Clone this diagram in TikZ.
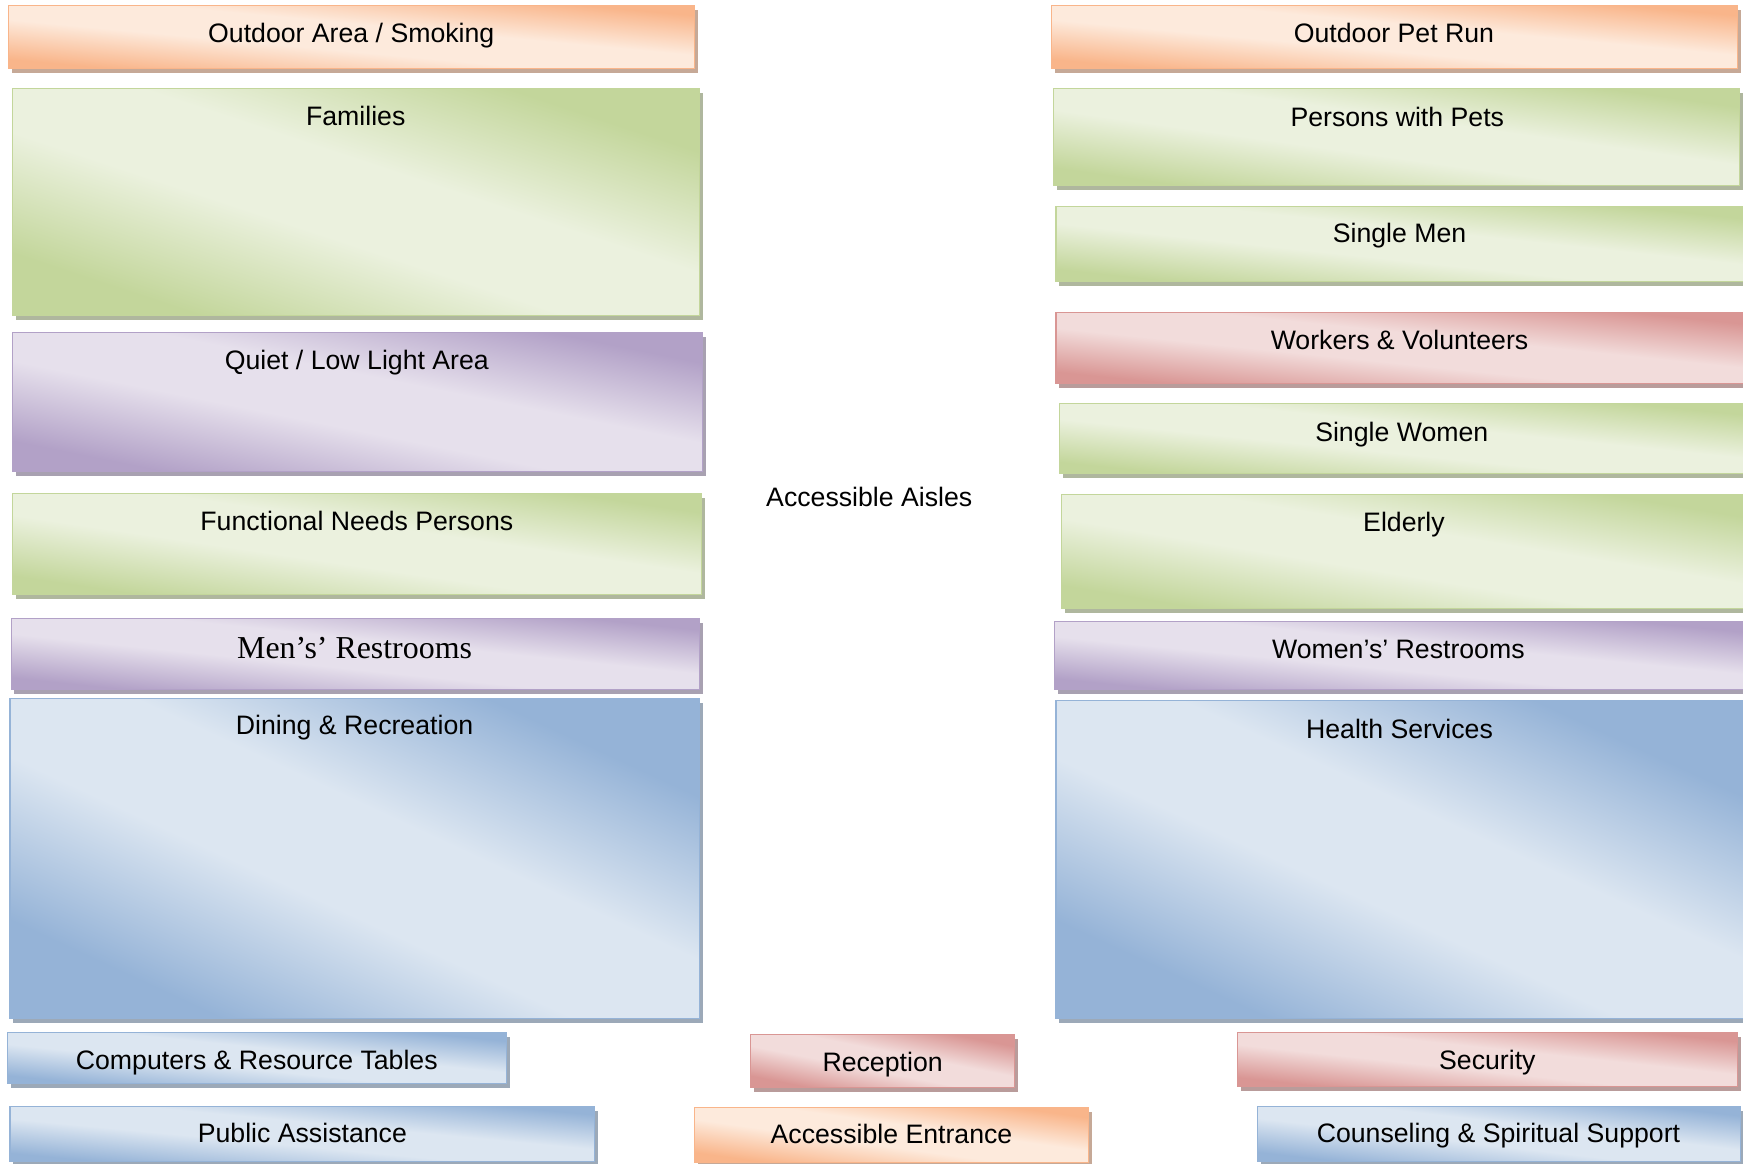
\documentclass[tikz,border=0pt]{standalone}
\usepackage{fontspec}
\setmainfont{Liberation Sans}
\newfontfamily\serifzone{Liberation Serif}
\usetikzlibrary{shadows}

\definecolor{odark}{HTML}{F9B58A}
\definecolor{olight}{HTML}{FDEADC}
\definecolor{gdark}{HTML}{C3D69B}
\definecolor{glight}{HTML}{EBF1DE}
\definecolor{pdark}{HTML}{B2A1C7}
\definecolor{plight}{HTML}{E6E0EC}
\definecolor{bdark}{HTML}{95B3D7}
\definecolor{blight}{HTML}{DCE6F1}
\definecolor{rdark}{HTML}{D99694}
\definecolor{rlight}{HTML}{F2DCDB}
\colorlet{zdark}{gray}
\colorlet{zlight}{white}

\pgfdeclarehorizontalshading[zdark,zlight]{zoneband}{100bp}{color(0bp)=(zdark); color(27bp)=(zdark); color(44bp)=(zlight); color(56bp)=(zlight); color(73bp)=(zdark); color(100bp)=(zdark)}

\tikzset{
  area/.style 2 args={/utils/exec={\colorlet{zdark}{#1}\colorlet{zlight}{#2}},
    shading=zoneband, draw=#1, line width=1pt,
    drop shadow={shadow xshift=3pt, shadow yshift=-4pt, fill=#1!50!gray!85, opacity=1}},
  orangebox/.style={area={odark}{olight}},
  greenbox/.style={area={gdark}{glight}},
  purplebox/.style={area={pdark}{plight}},
  bluebox/.style={area={bdark}{blight}},
  redbox/.style={area={rdark}{rlight}},
  lbl/.style={font=\fontsize{24}{28}\selectfont, inner sep=0pt, text height=23pt, text depth=5pt}
}

\begin{document}
\begin{tikzpicture}[x=1pt,y=-1pt]
\useasboundingbox (0,0) rectangle (1568,1047);

% left column
\draw[orangebox, shading angle=84.7] (8,5) rectangle (625,62);
\node[lbl] (smoking) at (316,29) {Outdoor Area / Smoking};
\draw[greenbox, shading angle=71.7] (11,80) rectangle (629,284);
\node[lbl] (families) at (320,104) {Families};
\draw[purplebox, shading angle=78.6] (11,299) rectangle (632,424);
\node[lbl] (quiet) at (321,323) {Quiet / Low Light Area};
\draw[greenbox, shading angle=81.6] (11,444) rectangle (631,535);
\node[lbl] (functional) at (321,468) {Functional Needs Persons};
\draw[purplebox, shading angle=84.1] (10,556) rectangle (629,620);
\node[lbl, font=\serifzone\fontsize{28.7}{32}\selectfont] (mens) at (319,583) {Men’s’ Restrooms};
\draw[bluebox, shading angle=65.1] (9,628) rectangle (629,916);
\node[lbl] (dining) at (319,652) {Dining \& Recreation};
\draw[bluebox, shading angle=84.2] (7,929) rectangle (456,975);
\node[lbl] (computers) at (231,953) {Computers \& Resource Tables};
\draw[bluebox, shading angle=84.6] (9,995) rectangle (535,1045);
\node[lbl] (public) at (272,1019) {Public Assistance};

% middle
\node[lbl] (aisles) at (782,447) {Accessible Aisles};
\draw[redbox, shading angle=78.8] (675,931) rectangle (913,978);
\node[lbl] (reception) at (794,955) {Reception};
\draw[orangebox, shading angle=82] (625,996) rectangle (979,1046);
\node[lbl] (entrance) at (802,1020) {Accessible Entrance};

% right column
\draw[orangebox, shading angle=84.7] (946,5) rectangle (1563,62);
\node[lbl] (petrun) at (1254,29) {Outdoor Pet Run};
\draw[greenbox, shading angle=82] (948,80) rectangle (1565,167);
\node[lbl] (pets) at (1257,105) {Persons with Pets};
\draw[greenbox, shading angle=83.9] (950,186) rectangle (1572,253);
\node[lbl] (men) at (1259,209) {Single Men};
\draw[redbox, shading angle=84.1] (950,281) rectangle (1572,345);
\node[lbl] (workers) at (1259,305) {Workers \& Volunteers};
\draw[greenbox, shading angle=84.2] (953,363) rectangle (1572,426);
\node[lbl] (women) at (1261,388) {Single Women};
\draw[greenbox, shading angle=80.6] (955,445) rectangle (1572,547);
\node[lbl] (elderly) at (1263,469) {Elderly};
\draw[purplebox, shading angle=84.4] (949,559) rectangle (1572,620);
\node[lbl] (womens) at (1258,583) {Women’s’ Restrooms};
\draw[bluebox, shading angle=65.3] (950,630) rectangle (1572,916);
\node[lbl] (health) at (1259,655) {Health Services};
\draw[redbox, shading angle=83.9] (1113,929) rectangle (1563,977);
\node[lbl] (security) at (1338,953) {Security};
\draw[bluebox, shading angle=83.4] (1131,995) rectangle (1566,1045);
\node[lbl] (counseling) at (1348,1019) {Counseling \& Spiritual Support};
\end{tikzpicture}
\end{document}
